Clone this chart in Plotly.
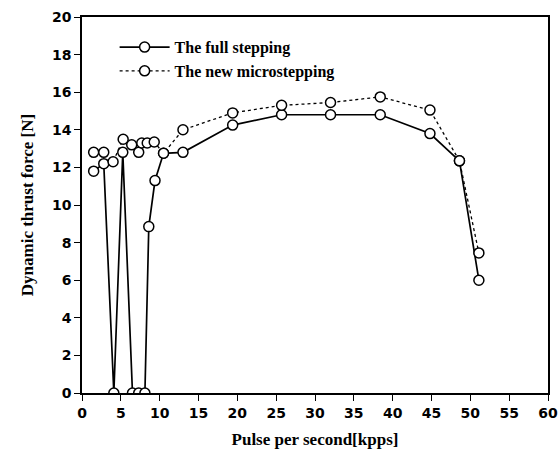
import plotly.graph_objects as go

# Full stepping drive
full_x = [1.5, 2.8, 4.1, 5.25, 6.5, 7.3, 8.1, 8.6, 9.4, 10.5, 13.0, 19.4, 25.7, 32.0, 38.4, 44.8, 48.6, 51.1]
full_y = [11.8, 12.2, 0.0, 12.8, 0.0, 0.0, 0.0, 8.85, 11.3, 12.75, 12.8, 14.25, 14.8, 14.8, 14.8, 13.8, 12.35, 6.0]

# New microstepping drive
micro_x = [1.5, 2.8, 4.0, 5.3, 6.4, 7.3, 7.7, 8.4, 9.3, 10.5, 13.0, 19.4, 25.7, 32.0, 38.4, 44.8, 48.6, 51.1]
micro_y = [12.8, 12.8, 12.3, 13.5, 13.2, 12.8, 13.3, 13.3, 13.35, 12.75, 14.0, 14.9, 15.3, 15.45, 15.75, 15.05, 12.35, 7.45]

x_ticks = list(range(0, 61, 5))
y_ticks = list(range(0, 21, 2))

marker = dict(symbol="circle", size=10, color="white", line=dict(color="black", width=1.5))

fig = go.Figure()
fig.add_trace(go.Scatter(
    x=full_x, y=full_y, mode="lines+markers", name="The full stepping",
    line=dict(color="black", width=1.7), marker=marker,
))
fig.add_trace(go.Scatter(
    x=micro_x, y=micro_y, mode="lines+markers", name="The new microstepping",
    line=dict(color="black", width=1.3, dash="dot"), marker=marker,
))

axis_common = dict(
    showgrid=False, zeroline=False, showline=True, linecolor="black", linewidth=1.6,
    mirror=True, ticks="outside", ticklen=6, tickcolor="black", tickwidth=1.3,
    automargin=False,
    tickfont=dict(family="DejaVu Sans", size=14, color="black", weight="bold"),
)

fig.update_layout(
    width=560, height=459,
    margin=dict(l=82, r=12, t=17, b=66),
    paper_bgcolor="white", plot_bgcolor="white",
    showlegend=True,
    legend=dict(
        x=0.07, y=0.965, xanchor="left", yanchor="top",
        bgcolor="rgba(0,0,0,0)", tracegroupgap=0, itemwidth=50,
        font=dict(family="Liberation Serif", size=16, color="black", weight="bold"),
    ),
    xaxis=dict(
        range=[0, 60], tickvals=x_ticks,
        title=dict(text="Pulse per second[kpps]", standoff=14,
                   font=dict(family="Liberation Serif", size=17, color="black", weight="bold")),
        **axis_common,
    ),
    yaxis=dict(
        range=[0, 20], tickvals=y_ticks,
        title=dict(text="Dynamic thrust force [N]", standoff=14,
                   font=dict(family="Liberation Serif", size=17, color="black", weight="bold")),
        **axis_common,
    ),
)

fig.write_html("out.html")
